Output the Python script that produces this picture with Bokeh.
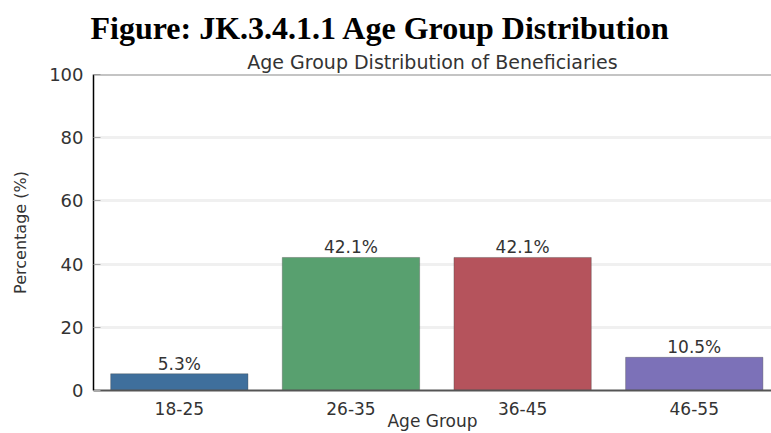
from bokeh.plotting import figure
from bokeh.models import ColumnDataSource, FixedTicker, Span, Title, Range1d
from bokeh.core.properties import value
from bokeh.embed import file_html
from bokeh.resources import INLINE

# Age groups and their share of beneficiaries (%)
age_groups = ["18-25", "26-35", "36-45", "46-55"]
percentages = [5.3, 42.1, 42.1, 10.5]
bar_colors = ["#3f6f9c", "#58a06f", "#b5535c", "#7c71b8"]
y_ticks = [0, 20, 40, 60, 80, 100]

positions = list(range(len(age_groups)))
source = ColumnDataSource(dict(
    x=positions,
    pct=percentages,
    color=bar_colors,
    label=[f"{v:.1f}%" for v in percentages],
))

p = figure(
    width=771, height=433,
    x_range=Range1d(-0.5, 3.45), y_range=Range1d(0, 100),
    output_backend="svg", toolbar_location=None,
    min_border_left=93, min_border_right=0,
    min_border_top=74, min_border_bottom=43,
)
p.outline_line_color = None
p.background_fill_color = "white"
p.border_fill_color = "white"

# document heading (outermost)
p.title.text = "Figure: JK.3.4.1.1 Age Group Distribution"
p.title.align = "left"
p.title.offset = -3
p.title.text_font = "Liberation Serif"
p.title.text_font_size = "32px"
p.title.text_font_style = "bold"
p.title.text_color = "black"
p.title.standoff = 2

# chart title, just above the plot area
subtitle = Title(
    text="Age Group Distribution of Beneficiaries",
    align="center",
    text_font="DejaVu Sans", text_font_size="19px",
    text_font_style="normal", text_color="#333333", standoff=4,
)
p.add_layout(subtitle, "above")

# bars and value labels
p.vbar(x="x", top="pct", width=0.8, bottom=0, source=source,
       fill_color="color", line_color="#444444", line_alpha=0.35, line_width=1)
p.text(x="x", y="pct", text="label", source=source,
       text_align="center", text_baseline="bottom",
       text_font=value("DejaVu Sans"), text_font_size="17px",
       text_color="#333333")

# top frame line
p.add_layout(Span(location=100, dimension="width",
                  line_color="#8a8a8a", line_width=2))

# grid
p.xgrid.grid_line_color = None
p.ygrid.grid_line_color = "#f0f0f0"
p.ygrid.grid_line_width = 3
p.ygrid.ticker = FixedTicker(ticks=y_ticks)

# y axis
p.yaxis.ticker = FixedTicker(ticks=y_ticks)
p.yaxis.axis_label = "Percentage (%)"
p.yaxis.axis_label_text_font = "DejaVu Sans"
p.yaxis.axis_label_text_font_size = "16px"
p.yaxis.axis_label_text_font_style = "normal"
p.yaxis.axis_label_text_color = "#333333"
p.yaxis.axis_label_standoff = 16
p.yaxis.major_label_text_font = "DejaVu Sans"
p.yaxis.major_label_text_font_size = "18px"
p.yaxis.major_label_text_color = "#333333"
p.yaxis.major_label_standoff = 10
p.yaxis.axis_line_color = "black"
p.yaxis.axis_line_width = 1.5
p.yaxis.major_tick_in = 7
p.yaxis.major_tick_out = 0
p.yaxis.major_tick_line_color = "#aaaaaa"
p.yaxis.minor_tick_line_color = None

# x axis (kept compact so the plot area reaches down to y=390)
p.xaxis.ticker = FixedTicker(ticks=positions)
p.xaxis.major_label_overrides = {i: g for i, g in zip(positions, age_groups)}
p.xaxis.axis_label = "Age Group"
p.xaxis.axis_label_text_font = "DejaVu Sans"
p.xaxis.axis_label_text_font_size = "17px"
p.xaxis.axis_label_text_font_style = "normal"
p.xaxis.axis_label_text_color = "#333333"
p.xaxis.axis_label_standoff = -7
p.xaxis.major_label_text_font = "DejaVu Sans"
p.xaxis.major_label_text_font_size = "17px"
p.xaxis.major_label_text_color = "#333333"
p.xaxis.major_label_standoff = 5
p.xaxis.axis_line_color = "#555555"
p.xaxis.axis_line_width = 2
p.xaxis.major_tick_line_color = None
p.xaxis.minor_tick_line_color = None

open("out.html", "w").write(file_html(p, INLINE))
